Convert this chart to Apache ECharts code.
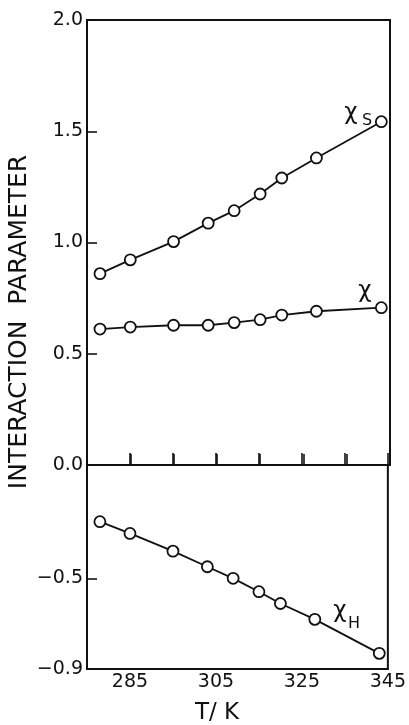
<!DOCTYPE html>
<html>
<head>
<meta charset="utf-8">
<script src="https://cdn.jsdelivr.net/npm/echarts@6/dist/echarts.min.js"></script>
<style>
  html, body { margin: 0; padding: 0; background: #fff; }
  #chart { width: 409px; height: 725px; }
</style>
</head>
<body>
<div id="chart"></div>
<script>
// temperatures (K) of the measured points
const temps = [278, 285, 295, 303, 309, 315, 320, 328, 343];
// interaction parameters
const chiS = [0.86, 0.922, 1.004, 1.087, 1.143, 1.218, 1.29, 1.38, 1.543];
const chi = [0.611, 0.62, 0.628, 0.628, 0.64, 0.653, 0.674, 0.691, 0.707];
const chiH = [-0.25, -0.302, -0.38, -0.449, -0.5, -0.559, -0.611, -0.681, -0.831];

const xTickLabels = [285, 305, 325, 345];
const lowerYLabels = [-0.9, -0.5];

const ink = '#111';
const font = 'DejaVu Sans';

const myChart = echarts.init(document.getElementById('chart'));

const pairs = (ys) => temps.map((t, i) => [t, ys[i]]);
const fmt = (v) => v.toFixed(1).replace('-', '\u2212');

const tickStyle = { inside: true, length: 11, lineStyle: { color: ink, width: 1.6 } };
const labelStyle = { color: ink, fontFamily: font, fontSize: 19 };

const seriesBase = {
  type: 'line',
  symbol: 'circle',
  symbolSize: 11,
  showSymbol: true,
  lineStyle: { color: ink, width: 1.8 },
  itemStyle: { color: '#fff', borderColor: ink, borderWidth: 1.8 },
  z: 5
};

const option = {
  backgroundColor: '#fff',
  animation: false,
  grid: [
    { left: 87, right: 19, top: 20, height: 445, show: true, borderColor: ink, borderWidth: 2 },
    { left: 87, right: 19, top: 465, height: 204, show: true, borderColor: ink, borderWidth: 2 }
  ],
  xAxis: [
    {
      gridIndex: 0, type: 'value', min: 275, max: 345, interval: 10,
      axisLine: { show: false }, splitLine: { show: false },
      axisTick: tickStyle, axisLabel: { show: false }
    },
    {
      gridIndex: 1, type: 'value', min: 275, max: 345, interval: 10,
      axisLine: { show: false }, splitLine: { show: false },
      axisTick: Object.assign({}, tickStyle, { length: 12 }),
      axisLabel: Object.assign({ customValues: xTickLabels, margin: 4 }, labelStyle)
    }
  ],
  yAxis: [
    {
      gridIndex: 0, type: 'value', min: 0, max: 2, interval: 0.5,
      axisLine: { show: false }, splitLine: { show: false },
      axisTick: Object.assign({}, tickStyle, { length: 10 }),
      axisLabel: Object.assign({ margin: 4, formatter: fmt }, labelStyle)
    },
    {
      gridIndex: 1, type: 'value', min: -0.9, max: 0,
      axisLine: { show: false }, splitLine: { show: false },
      axisTick: Object.assign({}, tickStyle, { length: 10, customValues: [-0.5] }),
      axisLabel: Object.assign({ margin: 4, customValues: lowerYLabels, formatter: fmt }, labelStyle)
    }
  ],
  series: [
    Object.assign({ name: 'chiS', xAxisIndex: 0, yAxisIndex: 0, data: pairs(chiS) }, seriesBase),
    Object.assign({ name: 'chi', xAxisIndex: 0, yAxisIndex: 0, data: pairs(chi) }, seriesBase),
    Object.assign({ name: 'chiH', xAxisIndex: 1, yAxisIndex: 1, data: pairs(chiH) }, seriesBase)
  ],
  graphic: [
    {
      type: 'text', x: 19, y: 322, rotation: Math.PI / 2,
      style: { text: 'INTERACTION  PARAMETER', fill: ink, font: '25px "DejaVu Sans"', align: 'center', verticalAlign: 'middle' }
    },
    {
      type: 'text', x: 217, y: 713,
      style: { text: 'T/ K', fill: ink, font: '23px "DejaVu Sans"', align: 'center', verticalAlign: 'middle' }
    },
    // curve labels
    { type: 'text', x: 351, y: 113, style: { text: 'χ', fill: ink, font: '23px "DejaVu Sans"', align: 'center', verticalAlign: 'middle' } },
    { type: 'text', x: 367, y: 121, style: { text: 'S', fill: ink, font: '16px "DejaVu Sans"', align: 'center', verticalAlign: 'middle' } },
    { type: 'text', x: 365, y: 291, style: { text: 'χ', fill: ink, font: '23px "DejaVu Sans"', align: 'center', verticalAlign: 'middle' } },
    { type: 'text', x: 340, y: 611, style: { text: 'χ', fill: ink, font: '23px "DejaVu Sans"', align: 'center', verticalAlign: 'middle' } },
    { type: 'text', x: 354, y: 624, style: { text: 'H', fill: ink, font: '16px "DejaVu Sans"', align: 'center', verticalAlign: 'middle' } }
  ]
};

myChart.setOption(option);
</script>
</body>
</html>
